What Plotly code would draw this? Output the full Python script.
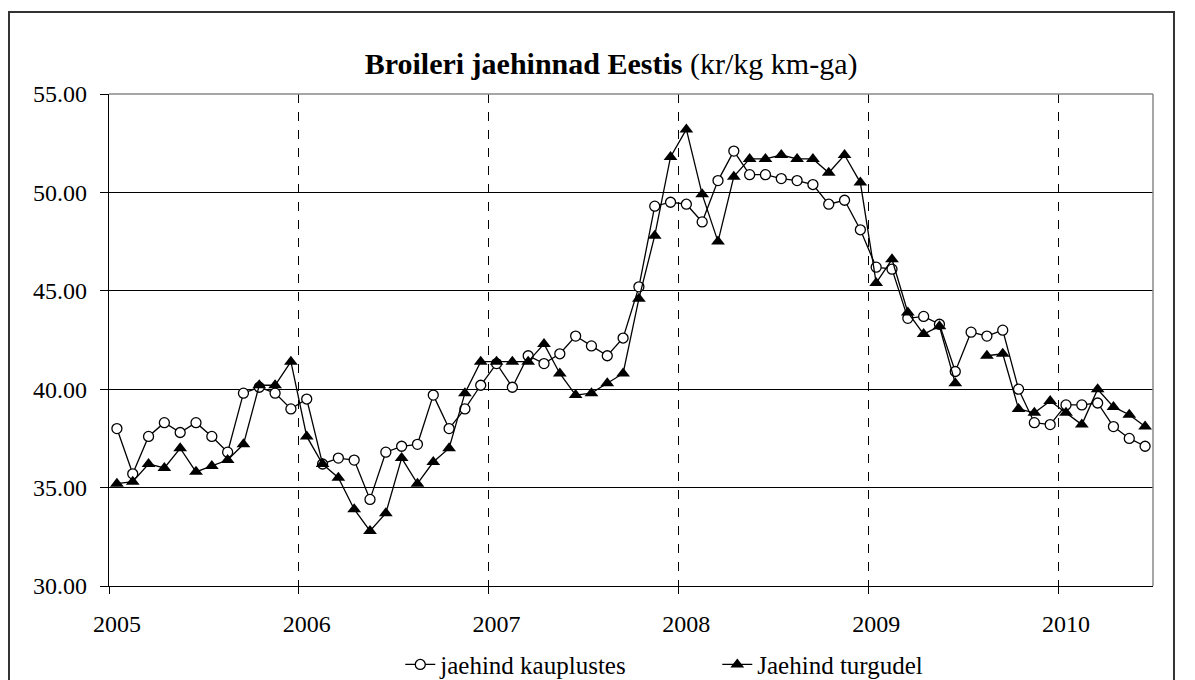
import plotly.graph_objects as go

# months Jan 2005 .. Jun 2010
months = [f"{y}-{m:02d}" for y in range(2005, 2011) for m in range(1, 13)][:66]

kauplustes = [
    38.0, 35.7, 37.6, 38.3, 37.8, 38.3, 37.6, 36.8, 39.8, 40.1, 39.8, 39.0,
    39.5, 36.2, 36.5, 36.4, 34.4, 36.8, 37.1, 37.2, 39.7, 38.0, 39.0, 40.2,
    41.3, 40.1, 41.7, 41.3, 41.8, 42.7, 42.2, 41.7, 42.6, 45.2, 49.3, 49.5,
    49.4, 48.5, 50.6, 52.1, 50.9, 50.9, 50.7, 50.6, 50.4, 49.4, 49.6, 48.1,
    46.2, 46.1, 43.6, 43.7, 43.3, 40.9, 42.9, 42.7, 43.0, 40.0, 38.3, 38.2,
    39.2, 39.2, 39.3, 38.1, 37.5, 37.1,
]

turgudel = [
    35.2, 35.3, 36.2, 36.0, 37.0, 35.8, 36.1, 36.4, 37.2, 40.2, 40.2, 41.4,
    37.6, 36.2, 35.5, 33.9, 32.8, 33.7, 36.5, 35.2, 36.3, 37.0, 39.8, 41.4,
    41.4, 41.4, 41.4, 42.3, 40.8, 39.7, 39.8, 40.3, 40.8, 44.6, 47.8, 51.8,
    53.2, 49.9, 47.5, 50.8, 51.7, 51.7, 51.9, 51.7, 51.7, 51.0, 51.9, 50.5,
    45.4, 46.6, 43.9, 42.8, 43.2, 40.3, None, 41.7, 41.8, 39.0, 38.8, 39.4,
    38.8, 38.2, 40.0, 39.1, 38.7, 38.1,
]

x = list(range(len(months)))
jan_idx = [i for i, m in enumerate(months) if m.endswith("-01")]
years = [months[i][:4] for i in jan_idx]

FONT = "Liberation Serif, Times New Roman, Times, serif"

fig = go.Figure()
fig.add_trace(go.Scatter(
    x=x, y=kauplustes, name="jaehind kauplustes", mode="lines+markers",
    line=dict(color="black", width=1.3),
    marker=dict(symbol="circle", size=10, color="white",
                line=dict(color="black", width=1.3)),
))
fig.add_trace(go.Scatter(
    x=x, y=turgudel, name="Jaehind turgudel", mode="lines+markers",
    connectgaps=False,
    line=dict(color="black", width=1.3),
    marker=dict(symbol="triangle-up", size=12, color="black"),
))

fig.update_xaxes(
    range=[-0.5, len(months) - 0.5],
    tickmode="array", tickvals=jan_idx, ticktext=years,
    ticks="", showgrid=False, zeroline=False,
    showline=True, linecolor="black", linewidth=1.3,
    ticklabelstandoff=16,
    tickfont=dict(family=FONT, size=24, color="black"),
    minor=dict(tickmode="array", tickvals=[i - 0.5 for i in jan_idx],
               ticks="outside", ticklen=7, tickcolor="black",
               showgrid=True, gridcolor="black", griddash="dash", gridwidth=1),
)
fig.update_yaxes(
    range=[30, 55], dtick=5, tickformat=".2f",
    showgrid=True, gridcolor="black", gridwidth=1, zeroline=False,
    showline=True, linecolor="black", linewidth=1.3,
    ticks="outside", ticklen=8, tickcolor="black",
    ticklabelstandoff=8,
    tickfont=dict(family=FONT, size=24, color="black"),
)

# plot area border (top/right grey) and outer chart frame
fig.add_shape(type="line", xref="paper", yref="paper", x0=0, x1=1, y0=1, y1=1,
              line=dict(color="#888888", width=1.5))
fig.add_shape(type="line", xref="paper", yref="paper", x0=1, x1=1, y0=0, y1=1,
              line=dict(color="#888888", width=1.5))
fig.add_shape(type="rect", xref="paper", yref="paper",
              x0=-0.0958, x1=1.0201, y0=-0.25, y1=1.1667,
              line=dict(color="#333333", width=2))

# page body has an 8px margin, so the figure is shifted by 8px
fig.update_layout(
    width=1179, height=672,
    margin=dict(l=101, r=34, t=86, b=94, autoexpand=False),
    paper_bgcolor="white", plot_bgcolor="white",
    title=dict(text="<b>Broileri jaehinnad Eestis</b> (kr/kg km-ga)",
               x=0.5115, xanchor="center", y=0.918, yanchor="middle",
               font=dict(family=FONT, size=30, color="black")),
    legend=dict(orientation="h", x=0.279, xanchor="left", y=-0.16,
                yanchor="middle", font=dict(family=FONT, size=25, color="black"),
                entrywidth=272, bgcolor="rgba(0,0,0,0)"),
    showlegend=True,
)

fig.write_html("out.html")
